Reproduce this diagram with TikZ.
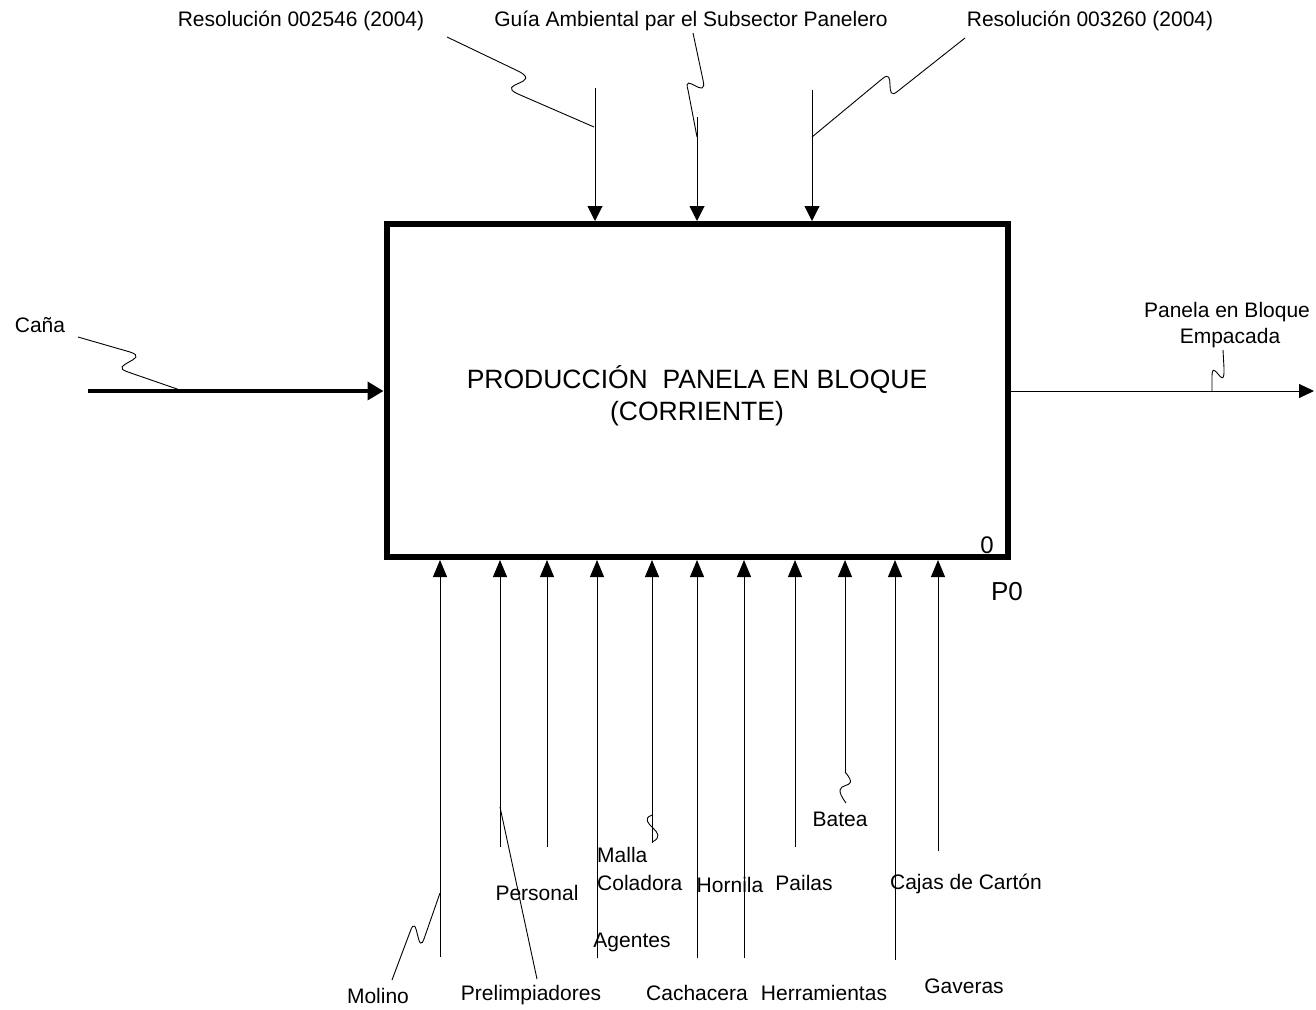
\documentclass[tikz,border=0pt]{standalone}
\usepackage{fontspec}
\setmainfont{Liberation Sans}
\usetikzlibrary{arrows.meta}
\begin{document}
\begin{tikzpicture}[x=1pt,y=-1pt,
  lbl/.style={inner sep=0pt, anchor=base, font=\fontsize{21}{25}\selectfont},
  lblw/.style={lbl, anchor=base west},
  feed/.style={line width=1pt, -{Triangle[length=15pt,width=15pt]}},
  upfeed/.style={line width=1pt, -{Triangle[length=17pt,width=14pt]}},
  lead/.style={line width=0.9pt},
  procbox/.style={draw, line width=6pt, inner sep=0pt}]
\useasboundingbox (0,0) rectangle (1316,1009);

% process box
\node[procbox, minimum width=621.5pt, minimum height=333pt] (box) at (697.25,390.5) {};
\node[lbl, font=\fontsize{26.5}{32}\selectfont] (title) at (697,388) {PRODUCCIÓN\ \ PANELA EN BLOQUE};
\node[lbl, font=\fontsize{26.5}{32}\selectfont] (title2) at (697,420) {(CORRIENTE)};
\node[lbl, font=\fontsize{24}{28}\selectfont] (num) at (987,553) {0};
\node[lbl, font=\fontsize{26}{30}\selectfont] (pnum) at (1007,600) {P0};

% controls (top)
\node[lbl] (res1) at (301,26) {Resolución 002546 (2004)};
\node[lbl] (guia) at (691,26) {Guía Ambiental par el Subsector Panelero};
\node[lbl] (res2) at (1090,26) {Resolución 003260 (2004)};
\coordinate (c1) at (595,88);
\coordinate (c2) at (697,117);
\coordinate (c3) at (812,90);
\draw[feed] (c1) -- (c1 |- box.north);
\draw[feed] (c2) -- (c2 |- box.north);
\draw[feed] (c3) -- (c3 |- box.north);
\coordinate (r1) at (447,37);  \coordinate (r1e) at (594,127);
\coordinate (g1) at (693,33);  \coordinate (g1e) at (697,137);
\coordinate (r2) at (965,38);  \coordinate (r2e) at (812,137);
\draw[lead] (r1) -- (518,71) .. controls (544,84) and (494,83) .. (518,94) -- (r1e);
\draw[lead] (g1) -- (703,80) .. controls (708,102) and (682,70) .. (688,90) -- (g1e);
\draw[lead] (r2) -- (898,91) .. controls (883,104) and (897,66) .. (882,79) -- (r2e);

% input (left)
\node[lbl] (cana) at (40,332) {Caña};
\coordinate (in) at (88,391);
\draw[line width=3.5pt, -{Triangle[length=16pt,width=18pt]}] (in) -- (in -| box.west);
\coordinate (k1) at (78,337); \coordinate (k1e) at (180,390);
\draw[lead] (k1) -- (130,352) .. controls (152,359) and (106,365) .. (128,372) -- (k1e);

% output (right)
\node[lbl] (out1) at (1227,317) {Panela en Bloque};
\node[lbl] (out2) at (1230,343) {Empacada};
\coordinate (out) at (1314,391);
\draw[line width=1pt, -{Triangle[length=15pt,width=14pt]}] (out -| box.east) -- (out);
\coordinate (o1) at (1212,391); \coordinate (o1e) at (1223,350);
\draw[lead] (o1) -- (1212,380) .. controls (1211,352) and (1225,396) .. (1224,368) -- (o1e);

% mechanisms (bottom)
\coordinate (m1) at (440,957);
\coordinate (m2) at (500,847);
\coordinate (m3) at (547,847);
\coordinate (m4) at (597,958);
\coordinate (m5) at (652,843);
\coordinate (m6) at (697,958);
\coordinate (m7) at (744,958);
\coordinate (m8) at (795,847);
\coordinate (m9) at (845,772);
\coordinate (m10) at (895,960);
\coordinate (m11) at (938,851);
\foreach \m in {m1,m2,m3,m4,m5,m6,m7,m8,m9,m10,m11}
  \draw[upfeed] (\m) -- (\m |- box.south);

\node[lbl] (molino) at (378,1003) {Molino};
\node[lbl] (prelim) at (531,1000) {Prelimpiadores};
\node[lbl] (personal) at (537,900) {Personal};
\node[lbl] (agentes) at (632,947) {Agentes};
\node[lblw] (malla) at (597,862) {Malla};
\node[lblw] (coladora) at (597,890) {Coladora};
\node[lbl] (hornila) at (730,892) {Hornila};
\node[lbl] (cachacera) at (697,1000) {Cachacera};
\node[lbl] (herram) at (824,1000) {Herramientas};
\node[lbl] (pailas) at (804,890) {Pailas};
\node[lbl] (batea) at (840,826) {Batea};
\node[lbl] (cajas) at (966,889) {Cajas de Cartón};
\node[lbl] (gaveras) at (964,993) {Gaveras};

% leaders (bottom)
\coordinate (l1) at (440,893); \coordinate (l1e) at (392,980);
\draw[lead] (l1) -- (425,936) .. controls (417,962) and (418,908) .. (410,932) -- (l1e);
\coordinate (l2) at (500,807); \coordinate (l2e) at (537,979);
\draw[lead] (l2) -- (l2e);
\coordinate (l5) at (652,815); \coordinate (l5e) at (652,842);
\draw[lead] (l5) .. controls (634,822) and (672,833) .. (l5e);
\coordinate (l9e) at (846,803);
\draw[lead] (m9) .. controls (864,794) and (826,776) .. (l9e);
\end{tikzpicture}
\end{document}
